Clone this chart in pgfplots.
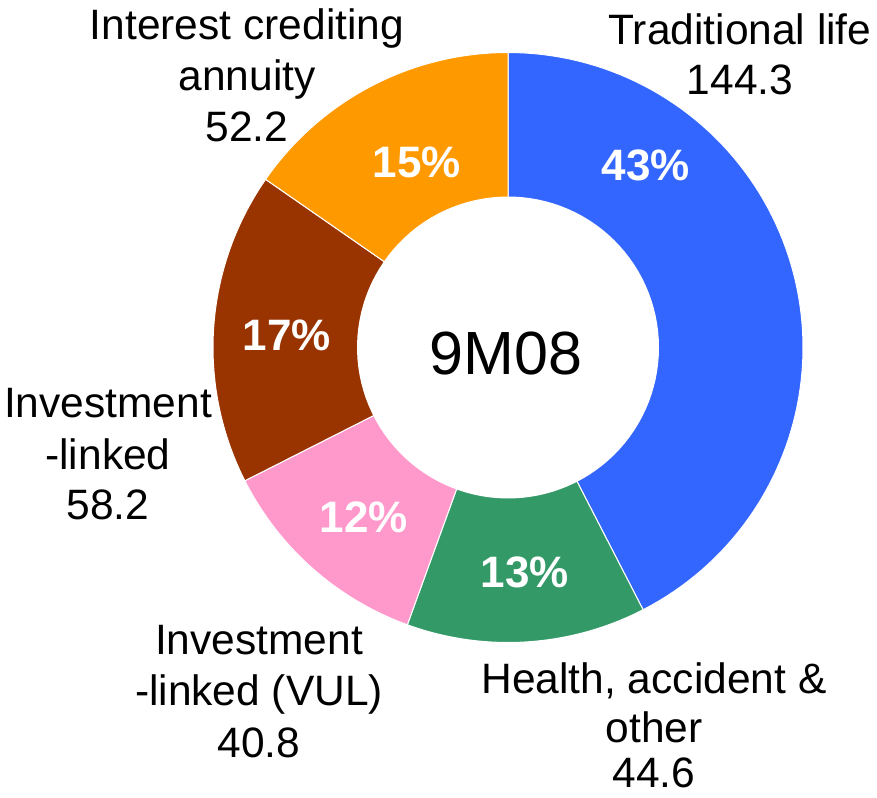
\documentclass[border=0pt]{standalone}
\usepackage{pgfplots}
\pgfplotsset{compat=1.18}
\usepackage{fontspec}
\setmainfont{Liberation Sans}
\definecolor{cBlue}{HTML}{3366FF}
\definecolor{cGreen}{HTML}{339966}
\definecolor{cPink}{HTML}{FF99CC}
\definecolor{cBrown}{HTML}{993300}
\definecolor{cOrange}{HTML}{FF9900}
% data (EUR bn)
\def\vTrad{144.3}
\def\vHealth{44.6}
\def\vVUL{40.8}
\def\vInv{58.2}
\def\vAnn{52.2}
\pgfmathsetmacro\vTot{\vTrad+\vHealth+\vVUL+\vInv+\vAnn}
\pgfmathsetmacro\aZ{90}
\pgfmathsetmacro\aA{\aZ-\vTrad/\vTot*360}
\pgfmathsetmacro\aB{\aA-\vHealth/\vTot*360}
\pgfmathsetmacro\aC{\aB-\vVUL/\vTot*360}
\pgfmathsetmacro\aD{\aC-\vInv/\vTot*360}
\pgfmathsetmacro\aE{\aD-\vAnn/\vTot*360}
\def\cx{508}\def\cy{-347.5}\def\R{295}\def\r{151}
\newcommand\lbl{\fontsize{42.5}{50}\selectfont}
\newcommand\pct{\fontsize{44}{50}\selectfont\bfseries\color{white}}
\begin{document}
\begin{tikzpicture}
\begin{axis}[width=877pt, height=797pt, scale only axis,
  xmin=0, xmax=877, ymin=-797, ymax=0, hide axis, clip=false]
\addplot[draw=none, fill=none] coordinates {(0,0) (877,-797)};
\addplot[fill=cBlue, draw=white, line width=1pt, domain=\aA:\aZ, samples=90, variable=\t]
  ({\cx+\R*cos(\t)},{\cy+\R*sin(\t)}) -- (axis cs:\cx,\cy) -- cycle;
\addplot[fill=cGreen, draw=white, line width=1pt, domain=\aB:\aA, samples=40, variable=\t]
  ({\cx+\R*cos(\t)},{\cy+\R*sin(\t)}) -- (axis cs:\cx,\cy) -- cycle;
\addplot[fill=cPink, draw=white, line width=1pt, domain=\aC:\aB, samples=40, variable=\t]
  ({\cx+\R*cos(\t)},{\cy+\R*sin(\t)}) -- (axis cs:\cx,\cy) -- cycle;
\addplot[fill=cBrown, draw=white, line width=1pt, domain=\aD:\aC, samples=50, variable=\t]
  ({\cx+\R*cos(\t)},{\cy+\R*sin(\t)}) -- (axis cs:\cx,\cy) -- cycle;
\addplot[fill=cOrange, draw=white, line width=1pt, domain=\aE:\aD, samples=50, variable=\t]
  ({\cx+\R*cos(\t)},{\cy+\R*sin(\t)}) -- (axis cs:\cx,\cy) -- cycle;
\addplot[fill=white, draw=none, domain=0:360, samples=120, variable=\t]
  ({\cx+\r*cos(\t)},{\cy+\r*sin(\t)}) -- cycle;
% centre
\node[anchor=base, inner sep=0pt, font=\fontsize{61}{70}\selectfont] at (axis cs:506,-375) {9M08};
% percentages
\node[font=\pct] at (axis cs:646,-165) {43\%};
\node[font=\pct] at (axis cs:417,-162) {15\%};
\node[font=\pct] at (axis cs:287,-335) {17\%};
\node[font=\pct] at (axis cs:364,-517) {12\%};
\node[font=\pct] at (axis cs:525,-572) {13\%};
% outer labels
\tikzset{lb/.style={anchor=base, inner sep=0pt, font=\lbl}}
\node[lb] at (axis cs:740,-45) {Traditional life};
\node[lb] at (axis cs:740,-95) {144.3};
\node[lb] at (axis cs:247,-40) {Interest crediting};
\node[lb] at (axis cs:247,-91) {annuity};
\node[lb] at (axis cs:247,-142) {52.2};
\node[lb] at (axis cs:108,-418) {Investment};
\node[lb] at (axis cs:108,-470) {-linked};
\node[lb] at (axis cs:108,-520) {58.2};
\node[lb] at (axis cs:259,-655) {Investment};
\node[lb] at (axis cs:259,-706) {-linked (VUL)};
\node[lb] at (axis cs:259,-757) {40.8};
\node[lb] at (axis cs:654,-694) {Health, accident \&};
\node[lb] at (axis cs:654,-743) {other};
\node[lb] at (axis cs:654,-787) {44.6};
\end{axis}
\end{tikzpicture}
\end{document}
